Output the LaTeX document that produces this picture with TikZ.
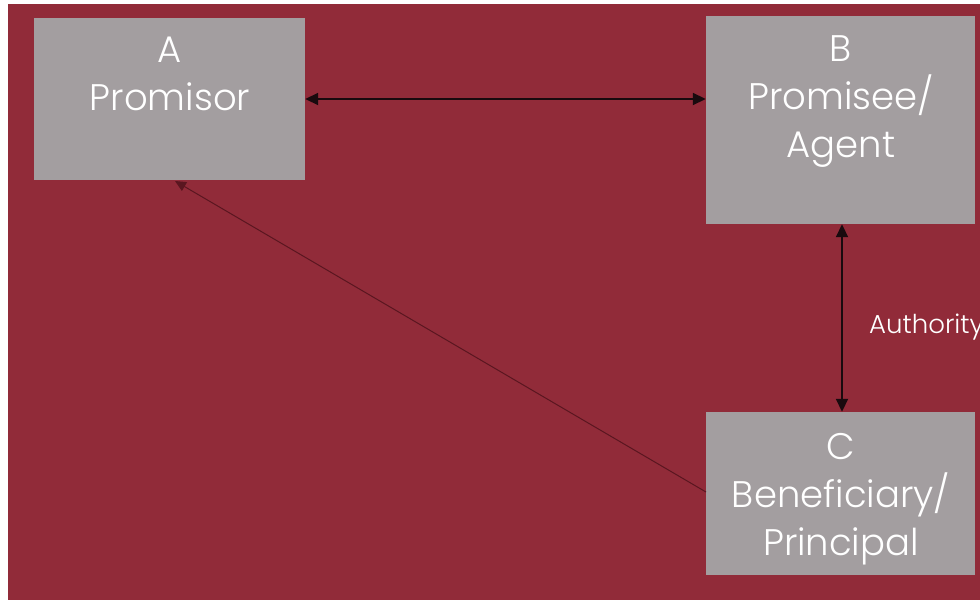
\documentclass[tikz,border=0pt]{standalone}
\usepackage{fontspec}
\setmainfont{Poppins}[UprightFont=* Light]
\usetikzlibrary{arrows.meta}
\definecolor{wine}{RGB}{145,43,57}
\definecolor{boxgray}{RGB}{163,158,160}
\definecolor{darkline}{RGB}{25,10,14}
\definecolor{diagline}{RGB}{90,22,32}
\begin{document}
\begin{tikzpicture}[x=1pt,y=-1pt,
  party/.style={fill=boxgray, draw=none, inner sep=0pt},
  bigtext/.style={text=white, align=center, inner sep=0pt, anchor=north,
    font=\fontsize{37}{48}\selectfont},
  duplex/.style={{Triangle[length=13pt,width=12pt]}-{Triangle[length=13pt,width=12pt]}, line width=1.8pt, draw=darkline},
  claim/.style={-{Triangle[length=11pt,width=10pt]}, line width=1pt, draw=diagline}]
  \useasboundingbox (0,0) rectangle (980,600);
  \fill[white] (0,0) rectangle (980,600);
  \fill[wine] (8,4) rectangle (980,600);
  % the three parties
  \node[party, minimum width=271pt, minimum height=162pt] (A) at (169.5,99) {};
  \node[party, minimum width=269pt, minimum height=208pt] (B) at (840.5,120) {};
  \node[party, minimum width=269pt, minimum height=163pt] (C) at (840.5,493.5) {};
  \node[bigtext] (Atext) at (170,37) {A\\Promisor};
  \node[bigtext] (Btext) at (841,35) {B\\Promisee/\\Agent};
  \node[bigtext] (Ctext) at (841,433) {C\\Beneficiary/\\Principal};
  % relations
  \draw[duplex] (A.east |- 0,99) -- (B.west |- 0,99);
  \draw[duplex] (B.south -| 842,0) -- (C.north -| 842,0);
  \coordinate (cfrom) at (706,492);
  \coordinate (ato) at (175,181);
  \draw[claim] (cfrom) -- (ato);
  \node[text=white, anchor=west, inner sep=0pt, font=\fontsize{26}{30}\selectfont] (auth) at (869,327) {Authority};
\end{tikzpicture}
\end{document}
